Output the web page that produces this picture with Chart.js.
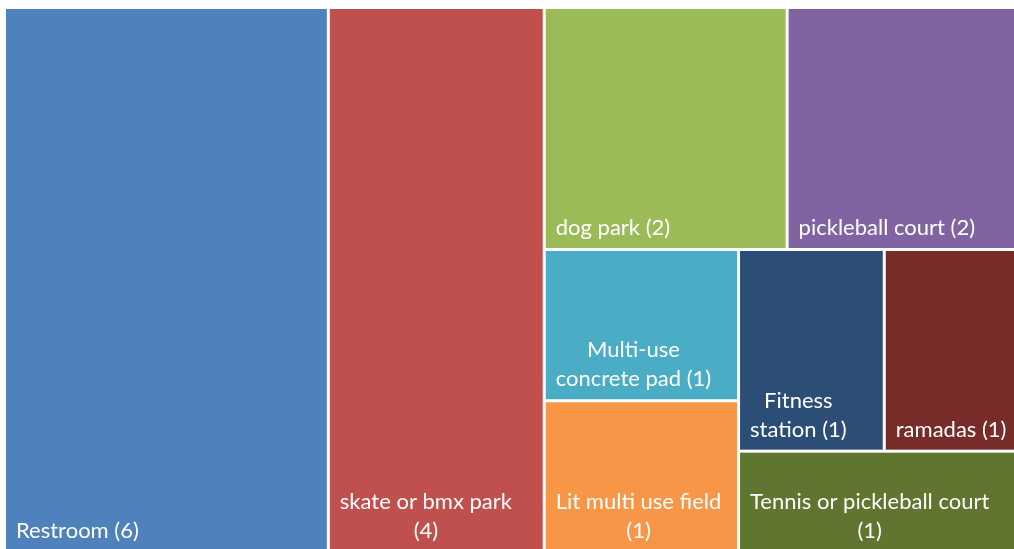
<!DOCTYPE html>
<html lang="en">
<head>
    <meta charset="UTF-8">
    <title>Amenity requests</title>
    <script src="https://cdn.jsdelivr.net/npm/chart.js"></script>
    <style>
        html, body { margin: 0; padding: 0; overflow: hidden; background: #fff; }
        #chart-container {
            position: absolute;
            left: 0;
            top: 0;
            width: 1030px;
            height: 552px;
        }
    </style>
</head>
<body>
    <div id="chart-container">
        <canvas id="treeChart"></canvas>
    </div>

    <script>
        // categories + counts (already in Excel's order: biggest first)
        const labels = [
            'Restroom', 'skate or bmx park', 'dog park', 'pickleball court',
            'Multi-use concrete pad', 'Lit multi use field', 'Fitness station',
            'ramadas', 'Tennis or pickleball court'
        ];
        const counts = [6, 4, 2, 2, 1, 1, 1, 1, 1];
        const colors = [
            '#4F81BD', '#C0504D', '#9BBB59', '#8064A2',
            '#4BACC6', '#F79646', '#2C4D75', '#772C2A', '#5F7530'
        ];

        // squarified layout, a strip only takes items of the same size
        function layoutCells(values, W, H) {
            const total = values.reduce((a, b) => a + b, 0);
            const k = W * H / total;
            let x = 0, y = 0, w = W, h = H;
            const out = [];
            function worst(idx, side) {
                const s = idx.reduce((a, i) => a + values[i] * k, 0);
                let m = 0;
                idx.forEach(i => {
                    const a = values[i] * k;
                    const r = Math.max(side * side * a / (s * s), s * s / (side * side * a));
                    m = Math.max(m, r);
                });
                return m;
            }
            let i = 0;
            while (i < values.length) {
                const side = Math.min(w, h);
                let row = [i];
                let best = worst(row, side);
                let j = i + 1;
                while (j < values.length && values[j] === values[i]) {
                    const cand = row.concat(j);
                    const r = worst(cand, side);
                    if (r <= best) { row = cand; best = r; j++; } else break;
                }
                const area = row.reduce((a, n) => a + values[n] * k, 0);
                if (w >= h) {
                    const cw = area / h;
                    let cy = y;
                    row.forEach(n => {
                        const ch = values[n] * k / cw;
                        out[n] = { x0: x, y0: cy, x1: x + cw, y1: cy + ch };
                        cy += ch;
                    });
                    x += cw; w -= cw;
                } else {
                    const rh = area / w;
                    let cx = x;
                    row.forEach(n => {
                        const cw = values[n] * k / rh;
                        out[n] = { x0: cx, y0: y, x1: cx + cw, y1: y + rh };
                        cx += cw;
                    });
                    y += rh; h -= rh;
                }
                i = row[row.length - 1] + 1;
            }
            // back to 0..1 units for the scales
            return out.map(c => ({ x0: c.x0 / W, x1: c.x1 / W, y0: c.y0 / H, y1: c.y1 / H }));
        }

        function wrapText(ctx, text, maxW) {
            const words = text.split(' ');
            const lines = [];
            let line = '';
            words.forEach(wd => {
                const test = line ? line + ' ' + wd : wd;
                if (line && ctx.measureText(test).width > maxW) {
                    lines.push(line);
                    line = wd;
                } else {
                    line = test;
                }
            });
            if (line) lines.push(line);
            return lines;
        }

        const treemapPlugin = {
            id: 'treemapCells',
            afterDraw(chart) {
                const ctx = chart.ctx;
                const xs = chart.scales.x, ys = chart.scales.y;
                const area = chart.chartArea;
                const cells = layoutCells(counts, area.right - area.left, area.bottom - area.top);
                const gap = 1.5;
                ctx.save();
                cells.forEach((c, i) => {
                    const left = xs.getPixelForValue(c.x0) + gap;
                    const right = xs.getPixelForValue(c.x1) - gap;
                    const top = ys.getPixelForValue(c.y0) + gap;
                    const bottom = ys.getPixelForValue(c.y1) - gap;
                    ctx.fillStyle = colors[i];
                    ctx.fillRect(left, top, right - left, bottom - top);

                    ctx.font = '22px Lato';
                    ctx.fillStyle = '#ffffff';
                    ctx.textBaseline = 'alphabetic';
                    ctx.textAlign = 'center';
                    const pad = 10;
                    const lines = wrapText(ctx, labels[i] + ' (' + counts[i] + ')', right - left - 2 * pad);
                    const blockW = Math.max(...lines.map(l => ctx.measureText(l).width));
                    const cx = left + pad + blockW / 2;
                    const lh = 29;
                    let by = bottom - 13 - (lines.length - 1) * lh;
                    lines.forEach(l => {
                        ctx.fillText(l, cx, by);
                        by += lh;
                    });
                });
                ctx.restore();
            }
        };

        new Chart(document.getElementById('treeChart'), {
            type: 'scatter',
            data: { datasets: [] },
            options: {
                responsive: true,
                maintainAspectRatio: false,
                animation: false,
                layout: { padding: { left: 4.5, top: 7.5, right: 0, bottom: 0 } },
                plugins: { legend: { display: false }, tooltip: { enabled: false } },
                scales: {
                    x: { type: 'linear', min: 0, max: 1, display: false },
                    y: { type: 'linear', min: 0, max: 1, reverse: true, display: false }
                }
            },
            plugins: [treemapPlugin]
        });
    </script>
</body>
</html>
